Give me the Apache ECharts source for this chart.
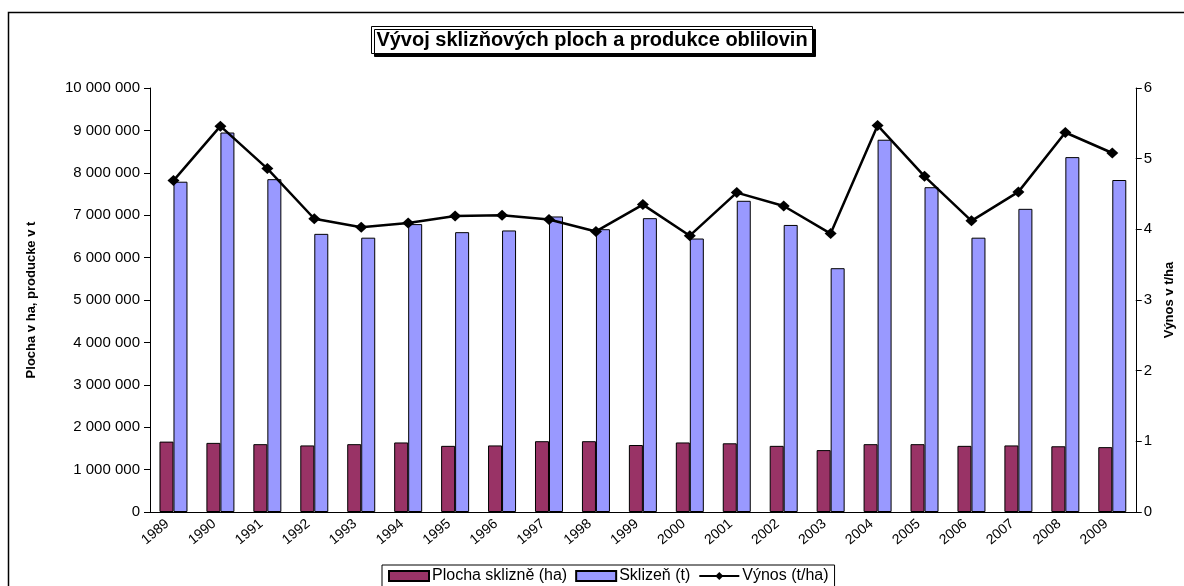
<!DOCTYPE html>
<html>
<head>
<meta charset="utf-8">
<script src="https://cdn.jsdelivr.net/npm/echarts@6/dist/echarts.min.js"></script>
<style>
html,body{margin:0;padding:0;background:#fff;}
#chart{width:1184px;height:586px;}
</style>
</head>
<body>
<div id="chart"></div>
<script>
const years = ['1989','1990','1991','1992','1993','1994','1995','1996','1997','1998','1999','2000','2001','2002','2003','2004','2005','2006','2007','2008','2009'];
const plocha = [1660000,1630000,1600000,1570000,1600000,1640000,1560000,1570000,1670000,1670000,1580000,1640000,1620000,1560000,1460000,1600000,1600000,1560000,1570000,1550000,1530000];
const sklizen = [7790000,8950000,7850000,6560000,6470000,6790000,6600000,6640000,6970000,6670000,6930000,6450000,7340000,6770000,5750000,8780000,7660000,6470000,7150000,8370000,7830000];
const vynos = [4.69,5.46,4.86,4.15,4.03,4.09,4.19,4.20,4.14,3.97,4.35,3.91,4.52,4.33,3.94,5.47,4.75,4.12,4.53,5.37,5.08];
const leftTicks = {min:0, max:10000000, interval:1000000};
const rightTicks = {min:0, max:6, interval:1};

const fmt = v => String(v).replace(/\B(?=(\d{3})+(?!\d))/g, ' ');
const font = 'Liberation Sans, Arial, sans-serif';

const chart = echarts.init(document.getElementById('chart'), null, {renderer:'canvas'});
chart.setOption({
  animation:false,
  backgroundColor:'#fff',
  textStyle:{fontFamily:font},
  graphic:[{
    type:'rect', shape:{x:8.5,y:12.5,width:1200,height:600},
    style:{fill:null, stroke:'#000', lineWidth:1.5}, z:-10
  }],
  title:{
    text:'Vývoj sklizňových ploch a produkce oblilovin',
    left:'center', top:26,
    padding:[4,5,4,5],
    borderColor:'#000', borderWidth:1, backgroundColor:'#fff',
    shadowColor:'#000', shadowOffsetX:3, shadowOffsetY:3, shadowBlur:0,
    textStyle:{fontFamily:font, fontSize:20, fontWeight:'bold', color:'#000'}
  },
  legend:{
    bottom:-4, left:382,
    borderColor:'#000', borderWidth:1, backgroundColor:'#fff',
    padding:[3,6,6,6], itemGap:8, itemWidth:40, itemHeight:10,
    textStyle:{fontFamily:font, fontSize:16, color:'#000', padding:[0,0,0,-2]},
    data:[
      {name:'Plocha sklizně (ha)', icon:'rect'},
      {name:'Sklizeň (t)', icon:'rect'},
      {name:'Výnos (t/ha)'}
    ]
  },
  grid:{left:150, right:32, top:88, bottom:74, containLabel:false},
  xAxis:{
    type:'category', data:years, boundaryGap:true,
    axisLine:{lineStyle:{color:'#000', width:1}},
    axisTick:{interval:0, length:6, lineStyle:{color:'#000'}},
    axisLabel:{interval:0, rotate:40, margin:5, padding:[0,8,0,0],
      fontFamily:font, fontSize:14, color:'#000'}
  },
  yAxis:[{
    type:'value', min:leftTicks.min, max:leftTicks.max, interval:leftTicks.interval,
    name:'Plocha v ha, producke v t', nameLocation:'middle', nameGap:112, nameRotate:90,
    nameTextStyle:{fontFamily:font, fontSize:13, fontWeight:'bold', color:'#000'},
    axisLine:{show:true, lineStyle:{color:'#000', width:1}},
    axisTick:{show:true, length:6, lineStyle:{color:'#000'}},
    splitLine:{show:false},
    axisLabel:{formatter:fmt, margin:10, fontFamily:font, fontSize:15, color:'#000'}
  },{
    type:'value', min:rightTicks.min, max:rightTicks.max, interval:rightTicks.interval,
    position:'right',
    name:'Výnos v t/ha', nameLocation:'middle', nameGap:24, nameRotate:90,
    nameTextStyle:{fontFamily:font, fontSize:13, fontWeight:'bold', color:'#000'},
    axisLine:{show:true, lineStyle:{color:'#000', width:1}},
    axisTick:{show:true, length:6, lineStyle:{color:'#000'}},
    splitLine:{show:false},
    axisLabel:{margin:8, fontFamily:font, fontSize:15, color:'#000'}
  }],
  series:[{
    name:'Plocha sklizně (ha)', type:'bar', data:plocha, yAxisIndex:0,
    barWidth:14, barGap:'0%',
    itemStyle:{color:'#993366', borderColor:'#000', borderWidth:1}
  },{
    name:'Sklizeň (t)', type:'bar', data:sklizen, yAxisIndex:0,
    barWidth:14, barGap:'0%',
    itemStyle:{color:'#9999FF', borderColor:'#000', borderWidth:1}
  },{
    name:'Výnos (t/ha)', type:'line', data:vynos, yAxisIndex:1,
    symbol:'diamond', symbolSize:[12,11], showSymbol:true,
    lineStyle:{color:'#000', width:2.5},
    itemStyle:{color:'#000'}, z:5
  }]
});
</script>
</body>
</html>
